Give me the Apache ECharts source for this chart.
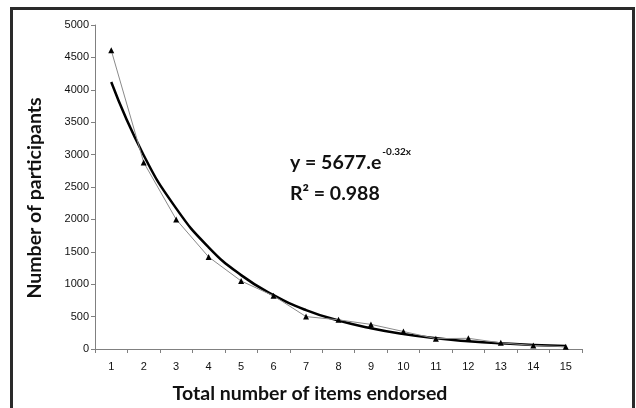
<!DOCTYPE html>
<html>
<head>
<meta charset="utf-8">
<script src="https://cdn.jsdelivr.net/npm/echarts@6/dist/echarts.min.js"></script>
<style>
    html, body { margin: 0; padding: 0; background: #fff; }
    #chart { width: 636px; height: 408px; }
</style>
</head>
<body>
<div id="chart"></div>
<script>
/*数据*/
var categories = ['1', '2', '3', '4', '5', '6', '7', '8', '9', '10', '11', '12', '13', '14', '15'];
var participants = [4610, 2880, 2000, 1420, 1050, 820, 500, 450, 380, 270, 160, 165, 95, 55, 35];
// 趋势线
var trendValues = [4120, 2990, 2170, 1570, 1140, 830, 600, 440, 320, 230, 165, 120, 87, 63, 46];
var yTicks = [0, 500, 1000, 1500, 2000, 2500, 3000, 3500, 4000, 4500, 5000];

var labelFont = 'Liberation Sans';
var titleFont = 'Lato';

function drawChart(el) {
    var _thisChart = echarts.init(document.getElementById(el));
    _thisChart.setOption({
        animation: false,
        grid: { left: 95, right: 54, top: 25, bottom: 59 },
        graphic: [
            {
                type: 'rect',
                shape: { x: 11.5, y: 8.5, width: 622, height: 420 },
                style: { fill: 'none', stroke: '#2a2a2a', lineWidth: 3 },
                z: 100
            },
            /*y轴标题*/
            {
                type: 'text',
                x: 35, y: 198,
                rotation: Math.PI / 2,
                style: {
                    text: 'Number of participants',
                    fontFamily: titleFont, fontWeight: 'bold', fontSize: 19.5, fill: '#111',
                    textAlign: 'center', textVerticalAlign: 'middle'
                }
            },
            /*x轴标题*/
            {
                type: 'text',
                x: 310, y: 394,
                style: {
                    text: 'Total number of items endorsed',
                    fontFamily: titleFont, fontWeight: 'bold', fontSize: 19.5, fill: '#111',
                    textAlign: 'center', textVerticalAlign: 'middle'
                }
            },
            /*公式*/
            {
                type: 'text',
                left: 290, top: 147,
                style: {
                    text: '{a|y = 5677.e}{s|-0.32x}\n{a|R² = 0.988}',
                    rich: {
                        a: { fontFamily: titleFont, fontWeight: 'bold', fontSize: 19.5, fill: '#111', lineHeight: 31 },
                        s: { fontFamily: titleFont, fontWeight: 'bold', fontSize: 10, fill: '#111', verticalAlign: 'top', padding: [0, 0, 14, 1] }
                    }
                }
            }
        ],
        xAxis: {
            type: 'category',
            data: categories,
            boundaryGap: true,
            axisLine: { lineStyle: { color: '#808080', width: 1 } },
            axisTick: { show: true, length: 4, lineStyle: { color: '#808080' } },
            axisLabel: { fontFamily: labelFont, fontSize: 11, color: '#111', margin: 12 }
        },
        yAxis: {
            type: 'value',
            min: yTicks[0],
            max: yTicks[yTicks.length - 1],
            interval: 500,
            splitLine: { show: false },
            axisLine: { show: true, lineStyle: { color: '#808080', width: 1 } },
            axisTick: { show: true, length: 4, lineStyle: { color: '#808080' } },
            axisLabel: {
                fontFamily: labelFont, fontSize: 11, color: '#111', margin: 6,
                formatter: function (v) { return String(v); }
            }
        },
        series: [
            {
                name: 'data',
                type: 'line',
                data: participants,
                symbol: 'triangle',
                symbolSize: 6,
                lineStyle: { color: '#8a8a8a', width: 1 },
                itemStyle: { color: '#000' },
                z: 3
            },
            {
                name: 'trend',
                type: 'line',
                data: trendValues,
                smooth: true,
                showSymbol: false,
                lineStyle: { color: '#000', width: 2.5 },
                z: 2
            }
        ]
    });
}
drawChart('chart');
</script>
</body>
</html>
